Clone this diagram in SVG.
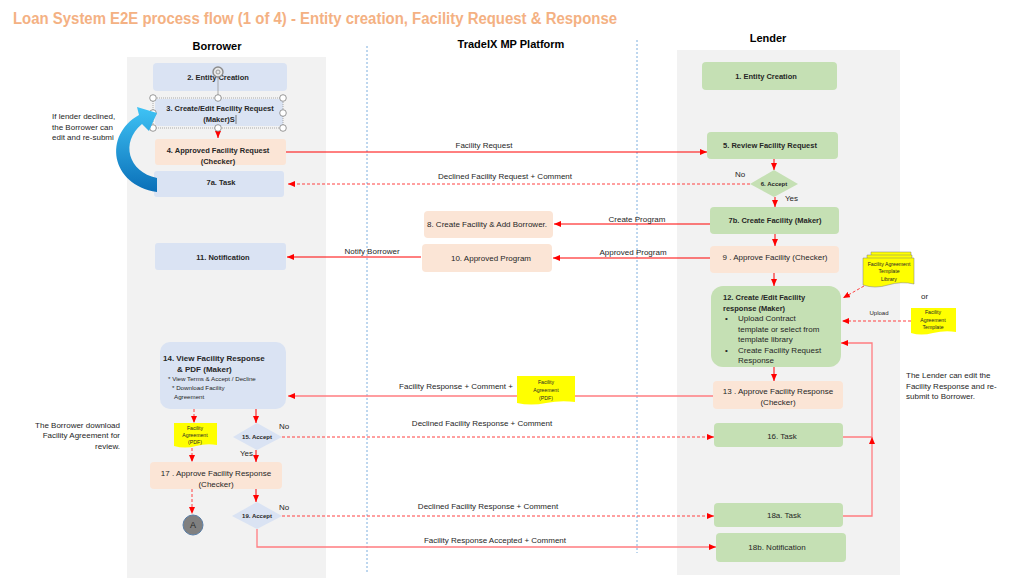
<svg xmlns="http://www.w3.org/2000/svg" width="1024" height="586" viewBox="0 0 1024 586">
<defs>
<style>
.t{font-family:"Liberation Sans",Arial,sans-serif;font-size:8px;fill:#262626}
.b{font-weight:bold;font-size:7.5px}
.c{text-anchor:middle}
.e{text-anchor:end}
.s6{font-size:6px}
.s5{font-size:5.2px}
.hd{font-family:"Liberation Sans",Arial,sans-serif;font-size:11px;font-weight:bold;fill:#000;text-anchor:middle}
.blue{fill:#DAE3F3}
.peach{fill:#FBE5D6}
.green{fill:#C5E0B4}
.ln{stroke:#FF0000;stroke-width:1;fill:none}
.lt{stroke:#FF7C80;stroke-width:1.3;fill:none}
.ds{stroke:#FF4040;stroke-width:1;stroke-dasharray:3 2;fill:none}
.vl{stroke:#5B9BD5;stroke-width:0.8;stroke-dasharray:2 2;fill:none}
.doc{fill:#FFFF00}
.hdl{fill:#fff;stroke:#7F7F7F;stroke-width:0.8}
</style>
<marker id="ah" markerWidth="7" markerHeight="6" refX="7" refY="3" orient="auto" markerUnits="userSpaceOnUse">
<path d="M0,0 L7,3 L0,6 Z" fill="#FF0000"/>
</marker>
<linearGradient id="bg" x1="0" y1="0" x2="0" y2="1">
<stop offset="0" stop-color="#3FC3F5"/>
<stop offset="1" stop-color="#0A6FB8"/>
</linearGradient>
</defs>
<rect width="1024" height="586" fill="#fff"/>

<text class="t b" x="13" y="24" style="font-size:16px;fill:#F4B183" textLength="604" lengthAdjust="spacingAndGlyphs">Loan System E2E process flow (1 of 4) - Entity creation, Facility Request &amp; Response</text>

<g id="lanes">
<rect x="127" y="57" width="199" height="521" fill="#F2F2F2"/>
<rect x="677" y="50" width="223" height="525" fill="#F2F2F2"/>
<text class="hd" x="217" y="50">Borrower</text>
<text class="hd" x="511" y="48">TradeIX MP Platform</text>
<text class="hd" x="768" y="42">Lender</text>
<line class="vl" x1="367" y1="46" x2="367" y2="573"/>
<line class="vl" x1="637" y1="40" x2="637" y2="553"/>
</g>

<g id="connectors">
<line class="ln" x1="218" y1="128" x2="218" y2="138" marker-end="url(#ah)"/>
<line class="ln" x1="286" y1="152" x2="707" y2="152" marker-end="url(#ah)"/>
<line class="ds" x1="750" y1="184" x2="288" y2="184" marker-end="url(#ah)"/>
<line class="ln" x1="774" y1="159" x2="774" y2="170" marker-end="url(#ah)"/>
<line class="ln" x1="775" y1="197" x2="775" y2="207" marker-end="url(#ah)"/>
<line class="ln" x1="710" y1="224" x2="554" y2="224" marker-end="url(#ah)"/>
<line class="ln" x1="775" y1="234" x2="775" y2="246" marker-end="url(#ah)"/>
<line class="ln" x1="710" y1="258" x2="553" y2="258" marker-end="url(#ah)"/>
<line class="ln" x1="421" y1="257" x2="287" y2="257" marker-end="url(#ah)"/>
<line class="ln" x1="774" y1="273" x2="774" y2="286" marker-end="url(#ah)"/>
<line class="ds" x1="864" y1="286" x2="843" y2="298" marker-end="url(#ah)"/>
<line class="ds" x1="911" y1="321" x2="842" y2="321" marker-end="url(#ah)"/>
<line class="ln" x1="774" y1="367" x2="774" y2="381" marker-end="url(#ah)"/>
<line class="lt" x1="713" y1="396" x2="288" y2="396" marker-end="url(#ah)"/>
<line class="ds" x1="194" y1="409" x2="194" y2="423" marker-end="url(#ah)"/>
<line class="ds" x1="192" y1="448" x2="192" y2="462" marker-end="url(#ah)"/>
<line class="ds" x1="192" y1="489" x2="192" y2="514" marker-end="url(#ah)"/>
<line class="ln" x1="256" y1="409" x2="256" y2="423" marker-end="url(#ah)"/>
<line class="ln" x1="256" y1="450" x2="256" y2="462" marker-end="url(#ah)"/>
<line class="ln" x1="256" y1="488" x2="256" y2="502" marker-end="url(#ah)"/>
<line class="ds" x1="282" y1="437" x2="714" y2="437" marker-end="url(#ah)"/>
<line class="ds" x1="282" y1="516" x2="714" y2="516" marker-end="url(#ah)"/>
<path class="lt" d="M257,529 V547 H716" marker-end="url(#ah)"/>
<path class="lt" d="M843,437 H872 V343 H841" marker-end="url(#ah)"/>
<path class="lt" d="M843,516 H872 V437" marker-end="url(#ah)"/>

<text class="t c" x="484" y="148">Facility Request</text>
<text class="t c" x="505" y="179">Declined Facility Request + Comment</text>
<text class="t" x="735" y="177">No</text>
<text class="t" x="785" y="201">Yes</text>
<text class="t c" x="637" y="222">Create Program</text>
<text class="t c" x="633" y="255">Approved  Program</text>
<text class="t c" x="372" y="254">Notify Borrower</text>
<text class="t c s6" x="879" y="315">Upload</text>
<text class="t c" x="456" y="389">Facility  Response + Comment +</text>
<text class="t c" x="482" y="426">Declined Facility Response + Comment</text>
<text class="t c" x="488" y="509">Declined Facility Response + Comment</text>
<text class="t c" x="495" y="543">Facility Response Accepted + Comment</text>
<text class="t" x="279" y="429">No</text>
<text class="t" x="279" y="510">No</text>
<text class="t" x="240" y="456">Yes</text>
</g>

<g id="n2"><rect class="blue" x="153" y="63" width="134" height="28" rx="4"/><text class="t b c" x="218" y="80">2. Entity Creation</text></g>
<g id="n3"><rect class="blue" x="155" y="99" width="128" height="27" rx="3"/><text class="t b c" x="220" y="111">3. Create/Edit  Facility Request</text><text class="t b c" x="219" y="122">(Maker)S</text><line x1="236" y1="115" x2="236" y2="124" stroke="#333" stroke-width="0.6"/></g>
<g id="selection">
<rect x="153" y="98" width="130" height="30" fill="none" stroke="#8C8C8C" stroke-width="0.7" stroke-dasharray="1 1"/>
<line x1="218" y1="77" x2="218" y2="98" stroke="#8C8C8C" stroke-width="0.7"/>
<circle cx="218" cy="72" r="5" fill="#E8E8E8" stroke="#8C8C8C" stroke-width="1.4"/>
<circle cx="218" cy="72" r="2" fill="none" stroke="#8C8C8C" stroke-width="0.8"/>
<circle class="hdl" cx="153" cy="98" r="3.3"/><circle class="hdl" cx="218" cy="98" r="3.3"/><circle class="hdl" cx="283" cy="98" r="3.3"/>
<circle class="hdl" cx="153" cy="113" r="3.3"/><circle class="hdl" cx="283" cy="113" r="3.3"/>
<circle class="hdl" cx="153" cy="128" r="3.3"/><circle class="hdl" cx="218" cy="128" r="3.3"/><circle class="hdl" cx="283" cy="128" r="3.3"/>
</g>
<g id="n4"><rect class="peach" x="155" y="139" width="131" height="26" rx="3"/><text class="t b c" x="218" y="153">4. Approved  Facility Request</text><text class="t b c" x="218" y="164">(Checker)</text></g>
<g id="n7a"><rect class="blue" x="154" y="171" width="130" height="26" rx="3"/><text class="t b c" x="221" y="185">7a. Task</text></g>
<g id="n11"><rect class="blue" x="155" y="243" width="131" height="27" rx="3"/><text class="t b c" x="223" y="260">11. Notification</text></g>

<g id="curvedArrow">
<text class="t" x="52" y="119">If lender declined,</text>
<text class="t" x="52" y="130">the Borrower can</text>
<text class="t" x="52" y="140">edit and re-submi</text>
<path d="M157,178 C128,172 120,142 142,124 L149,131 L157,113 L137,107 L139,115 C103,135 110,185 157,192 Z" fill="url(#bg)"/>
</g>

<g id="n8"><rect class="peach" x="424" y="211" width="129" height="27" rx="4"/><text class="t c" x="487" y="227">8. Create Facility &amp; Add Borrower.</text></g>
<g id="n10"><rect class="peach" x="422" y="244" width="130" height="28" rx="4"/><text class="t c" x="491" y="261">10. Approved Program</text></g>

<g id="n1"><rect class="green" x="702" y="62" width="135" height="28" rx="4"/><text class="t b c" x="766" y="79">1. Entity Creation</text></g>
<g id="n5"><rect class="green" x="707" y="132" width="131" height="27" rx="4"/><text class="t b c" x="770" y="148">5. Review Facility Request</text></g>
<g id="n6"><path class="green" d="M774,170 L798,184 L774,197 L750,184 Z"/><text class="t b c s6" x="774" y="186">6. Accept</text></g>
<g id="n7b"><rect class="green" x="710" y="207" width="129" height="27" rx="4"/><text class="t b c" x="775" y="223">7b.  Create Facility (Maker)</text></g>
<g id="n9"><rect class="peach" x="710" y="246" width="129" height="27" rx="4"/><text class="t c" x="775" y="260">9 . Approve Facility (Checker)</text></g>
<g id="n12"><rect class="green" x="711" y="286" width="130" height="81" rx="12"/>
<text class="t b" x="723" y="300">12. Create /Edit Facility</text>
<text class="t b" x="723" y="311">response (Maker)</text>
<text class="t" x="725" y="321">•</text><text class="t" x="738" y="321">Upload Contract</text>
<text class="t" x="738" y="332">template or select from</text>
<text class="t" x="738" y="342">template library</text>
<text class="t" x="725" y="353">•</text><text class="t" x="738" y="353">Create Facility Request</text>
<text class="t" x="738" y="363">Response</text>
</g>
<g id="n13"><rect class="peach" x="713" y="381" width="130" height="28" rx="4"/><text class="t c" x="778" y="394">13 . Approve Facility Response</text><text class="t c" x="778" y="405">(Checker)</text></g>
<g id="n16"><rect class="green" x="714" y="423" width="129" height="24" rx="4"/><text class="t c" x="782" y="439">16. Task</text></g>
<g id="n18a"><rect class="green" x="714" y="503" width="129" height="24" rx="4"/><text class="t c" x="784" y="518">18a. Task</text></g>
<g id="n18b"><rect class="green" x="716" y="533" width="130" height="29" rx="4"/><text class="t c" x="777" y="550">18b. Notification</text></g>

<g id="tplLibrary">
<path class="doc" d="M871,252 H911 V272 H871 Z" stroke="#7F7F7F" stroke-width="0.5"/>
<path class="doc" d="M867,255 H912 V278 H867 Z" stroke="#7F7F7F" stroke-width="0.5"/>
<path class="doc" d="M863,258 H914 V284 Q901,281 888,285 Q875,289 863,285 Z" stroke="#7F7F7F" stroke-width="0.5"/>
<text class="t c s5" x="889" y="266">Facility Agreement</text>
<text class="t c s5" x="889" y="273">Template</text>
<text class="t c s5" x="889" y="281">Library</text>
</g>
<text class="t" x="921" y="299" style="font-size:8px">or</text>
<g id="tplDoc">
<path class="doc" d="M911,308 H956 V332 Q945,330 933,333 Q921,336 911,333 Z"/>
<text class="t c s5" x="933" y="314">Facility</text>
<text class="t c s5" x="933" y="322">Agreement</text>
<text class="t c s5" x="933" y="329">Template</text>
</g>
<text class="t" x="906" y="378">The Lender can edit the</text>
<text class="t" x="906" y="389">Facility Response and re-</text>
<text class="t" x="906" y="399">submit to Borrower.</text>

<g id="n14"><rect class="blue" x="160" y="342" width="126" height="67" rx="10"/>
<text class="t b" x="163" y="361" style="font-size:8px">14. View Facility  Response</text>
<text class="t b" x="177" y="372" style="font-size:8px">&amp; PDF (Maker)</text>
<text class="t" x="168" y="381" style="font-size:6.2px">* View Terms &amp; Accept / Decline</text>
<text class="t" x="172" y="390" style="font-size:6.2px">* Download Facility</text>
<text class="t" x="174" y="399" style="font-size:6.2px">Agreement</text>
</g>
<g id="docPdf1">
<path class="doc" d="M174,423 H217 V445 Q207,443 196,446 Q185,449 174,446 Z"/>
<text class="t c s5" x="195" y="430">Facility</text>
<text class="t c s5" x="195" y="437">Agreement</text>
<text class="t c s5" x="195" y="444">(PDF)</text>
</g>
<g id="docPdf2">
<path class="doc" d="M517,376 H575 V402 Q561,400 546,403 Q531,406 517,403 Z"/>
<text class="t c s5" x="546" y="384">Facility</text>
<text class="t c s5" x="546" y="392">Agreement</text>
<text class="t c s5" x="546" y="400">(PDF)</text>
</g>
<g id="n15"><path class="blue" d="M257,423 L282,437 L257,450 L233,437 Z"/><text class="t b c s6" x="257" y="439">15. Accept</text></g>
<g id="n17"><rect class="peach" x="150" y="462" width="132" height="27" rx="4"/><text class="t c" x="216" y="476">17 . Approve Facility Response</text><text class="t c" x="216" y="487">(Checker)</text></g>
<g id="n19"><path class="blue" d="M257,502 L282,516 L257,529 L232,516 Z"/><text class="t b c s6" x="257" y="518">19. Accept</text></g>
<g id="nA"><circle cx="193" cy="525" r="10" fill="#808080" stroke="#5A7FA8" stroke-width="1"/><text class="t c" x="193" y="528" style="font-size:9px">A</text></g>

<text class="t e" x="120" y="428">The Borrower download</text>
<text class="t e" x="120" y="438">Facility Agreement for</text>
<text class="t e" x="120" y="449">review.</text>
</svg>
